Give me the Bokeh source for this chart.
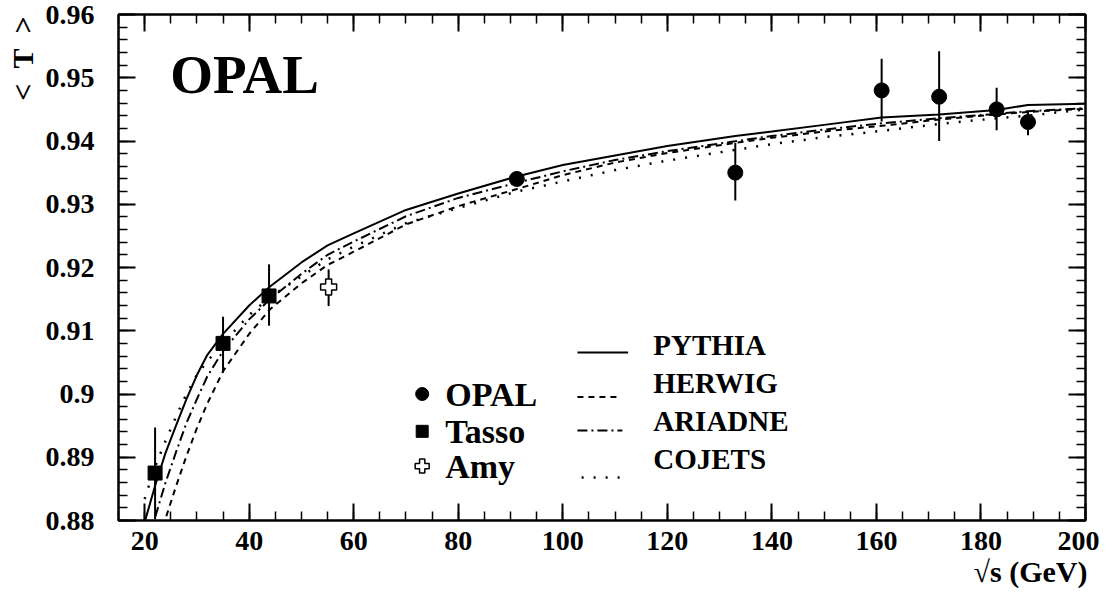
import numpy as np
from bokeh.plotting import figure
from bokeh.models import (FixedTicker, LinearAxis, Label, CustomJSTickFormatter,
                          Range1d, Title)
from bokeh.embed import file_html
from bokeh.resources import INLINE

# ---------------- data ----------------
energy_mc = [20, 22, 24, 26, 28, 30, 32, 35, 40, 44, 50, 55, 60, 70, 80, 91.2,
             100, 110, 120, 133, 140, 150, 161, 172, 183, 189, 200]
pythia = [0.8797, 0.8855, 0.8907, 0.8950, 0.8992, 0.9030, 0.9062, 0.9095, 0.9140,
          0.9170, 0.9208, 0.9235, 0.9254, 0.9291, 0.9317, 0.9344, 0.9362, 0.9377,
          0.9392, 0.9408, 0.9415, 0.94255, 0.9437, 0.9442, 0.9449, 0.9457, 0.9459]
herwig = [0.8690, 0.8740, 0.8803, 0.8854, 0.8902, 0.8946, 0.8985, 0.9036, 0.9095,
          0.9134, 0.9175, 0.9204, 0.9225, 0.9268, 0.9297, 0.9324, 0.9346, 0.9366,
          0.9381, 0.9397, 0.9405, 0.9415, 0.9424, 0.9434, 0.9442, 0.9446, 0.9451]
ariadne = [0.8745, 0.8805, 0.8860, 0.8908, 0.8954, 0.8992, 0.9028, 0.9068, 0.9118,
           0.9150, 0.9190, 0.9220, 0.9241, 0.9281, 0.9310, 0.9334, 0.9352, 0.9370,
           0.9384, 0.93995, 0.9408, 0.9418, 0.9428, 0.9436, 0.9443, 0.9447, 0.9452]
cojets = [0.8834, 0.8885, 0.8926, 0.8964, 0.9000, 0.9030, 0.9052, 0.9080, 0.9125,
          0.9153, 0.9186, 0.9213, 0.9233, 0.9270, 0.9294, 0.9320, 0.9336, 0.9354,
          0.9369, 0.9386, 0.9395, 0.9406, 0.9416, 0.9427, 0.9436, 0.9440, 0.9450]

opal_x = [91.2, 133, 161, 172, 183, 189]
opal_y = [0.934, 0.935, 0.948, 0.947, 0.945, 0.943]
opal_lo = [0.9334, 0.9306, 0.9431, 0.9400, 0.9417, 0.9409]
opal_hi = [0.9346, 0.9397, 0.9530, 0.9542, 0.9484, 0.9448]

tasso_x = [22, 35, 43.8]
tasso_y = [0.8875, 0.9080, 0.9155]
tasso_lo = [0.8802, 0.9034, 0.9108]
tasso_hi = [0.8947, 0.9122, 0.9205]

amy_x = [55.2]
amy_y = [0.9169]
amy_lo = [0.9139]
amy_hi = [0.9197]

x_major = [20, 40, 60, 80, 100, 120, 140, 160, 180, 200]
x_minor = list(range(15, 201, 5))
y_major = [0.88, 0.89, 0.90, 0.91, 0.92, 0.93, 0.94, 0.95, 0.96]
y_minor = [round(0.88 + 0.002 * i, 3) for i in range(41)]

FONT = "Times New Roman"

# ---------------- figure ----------------
p = figure(width=1099, height=592, x_range=Range1d(15, 200), y_range=Range1d(0.88, 0.96),
           output_backend="svg", toolbar_location=None,
           min_border_left=118, min_border_right=14, min_border_top=14, min_border_bottom=72)
p.background_fill_color = "white"
p.border_fill_color = "white"
p.outline_line_color = "black"
p.outline_line_width = 2
p.grid.visible = False

yfmt = CustomJSTickFormatter(code="return (Math.round(tick*100)/100).toString();")
blank = CustomJSTickFormatter(code="return '';")


def style_axis(ax, major, minor, labels):
    ax.ticker = FixedTicker(ticks=major, minor_ticks=minor)
    ax.axis_line_color = "black"
    ax.axis_line_width = 2
    ax.major_tick_line_width = 2
    ax.minor_tick_line_width = 1.5
    ax.major_tick_in = 17
    ax.major_tick_out = 0
    ax.minor_tick_in = 9
    ax.minor_tick_out = 0
    if labels:
        ax.major_label_text_font = FONT
        ax.major_label_text_font_style = "bold"
        ax.major_label_text_font_size = "28px"
        ax.major_label_text_color = "black"
    else:
        ax.formatter = blank
        ax.major_label_text_font_size = "1px"
        ax.major_label_standoff = 0


xb = p.xaxis[0]
style_axis(xb, x_major, x_minor, True)
xb.major_label_standoff = 11
yl = p.yaxis[0]
style_axis(yl, y_major, y_minor, True)
yl.formatter = yfmt
yl.major_label_standoff = 24

xt = LinearAxis()
style_axis(xt, x_major, x_minor, False)
p.add_layout(xt, "above")
yr = LinearAxis()
style_axis(yr, y_major, y_minor, False)
p.add_layout(yr, "right")

# axis titles as side titles (top of the left side, right end of the bottom side)
ytitle = Title(text="<\u2002T\u2002>", align="right", text_font=FONT,
               text_font_style="bold", text_font_size="30px", text_color="black",
               offset=2, standoff=7)
p.add_layout(ytitle, "left")
xtitle = Title(text="\u221as (GeV)", align="right", text_font=FONT, text_font_style="bold",
               text_font_size="30px", text_color="black", offset=-2, standoff=0)
p.add_layout(xtitle, "below")

# ---------------- curves ----------------
p.line(energy_mc, pythia, line_color="black", line_width=2)
p.line(energy_mc, herwig, line_color="black", line_width=2, line_dash="6 5")
p.line(energy_mc, ariadne, line_color="black", line_width=2, line_dash="10 4 2 4")
p.line(energy_mc, cojets, line_color="black", line_width=2.5, line_dash="2 10")

# ---------------- data points ----------------
p.segment(x0=opal_x, y0=opal_lo, x1=opal_x, y1=opal_hi, line_color="black", line_width=2)
p.segment(x0=tasso_x, y0=tasso_lo, x1=tasso_x, y1=tasso_hi, line_color="black", line_width=2)
p.segment(x0=amy_x, y0=amy_lo, x1=amy_x, y1=amy_hi, line_color="black", line_width=2)
p.scatter(opal_x, opal_y, marker="circle", size=15, fill_color="black", line_color="black")
p.scatter(tasso_x, tasso_y, marker="square", size=14, fill_color="black", line_color="black")
p.scatter(amy_x, amy_y, marker="plus", size=16, fill_color="white", line_color="black",
          line_width=1.5)

# ---------------- legend (custom) ----------------
key_x = 73.1
txt_x = 77.5
p.scatter([key_x], [0.90000], marker="circle", size=13, fill_color="black", line_color="black")
p.scatter([key_x], [0.89410], marker="square", size=12, fill_color="black", line_color="black")
p.scatter([key_x], [0.88860], marker="plus", size=14, fill_color="white", line_color="black",
          line_width=1.5)
for t, yc in [("OPAL", 0.90000), ("Tasso", 0.89410), ("Amy", 0.88860)]:
    p.add_layout(Label(x=txt_x, y=yc, text=t, text_font=FONT, text_font_style="bold",
                       text_font_size="34px", text_align="left", text_baseline="middle",
                       text_color="black"))

p.line([102.8, 112.5], [0.90656, 0.90656], line_color="black", line_width=2)
p.line([102.8, 111.0], [0.89953, 0.89953], line_color="black", line_width=2, line_dash="6 5")
p.line([102.8, 111.4], [0.89422, 0.89422], line_color="black", line_width=2,
       line_dash="10 4 2 4")
p.line([103.6, 111.5], [0.8868, 0.8868], line_color="black", line_width=2.5, line_dash="2 10")
model_x = 117.3
for t, yc in [("PYTHIA", 0.90781), ("HERWIG", 0.90172), ("ARIADNE", 0.89578),
              ("COJETS", 0.88969)]:
    p.add_layout(Label(x=model_x, y=yc, text=t, text_font=FONT, text_font_style="bold",
                       text_font_size="29px", text_align="left", text_baseline="middle",
                       text_color="black"))

# ---------------- big experiment label ----------------
p.add_layout(Label(x=24.9, y=0.95047, text="OPAL", text_font=FONT, text_font_style="bold",
                   text_font_size="55px", text_align="left", text_baseline="middle",
                   text_color="black"))

open("out.html", "w").write(file_html(p, INLINE))
